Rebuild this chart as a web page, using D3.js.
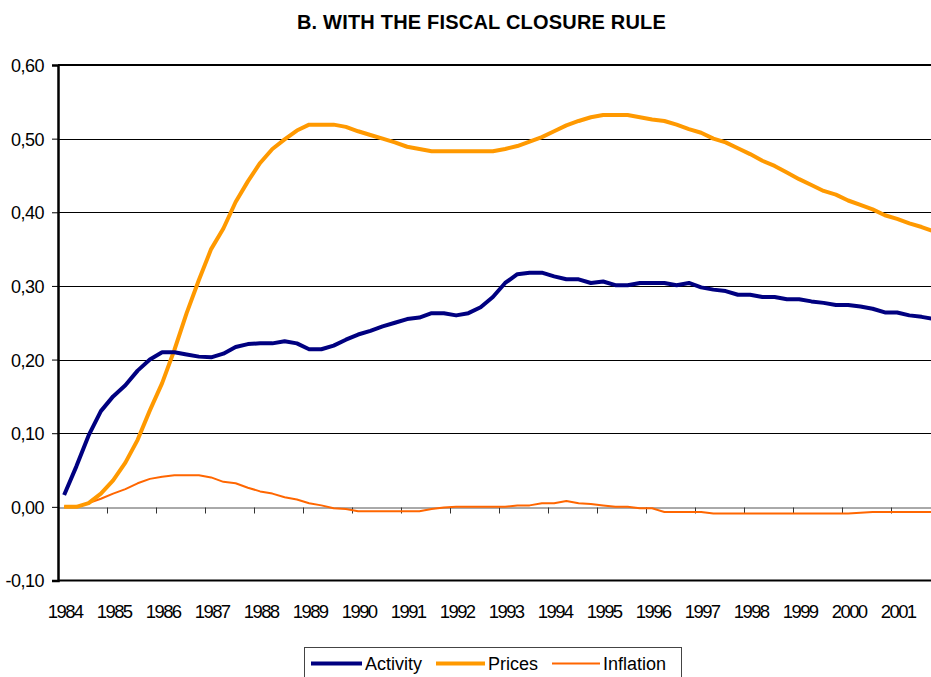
<!DOCTYPE html>
<html>
<head>
<meta charset="utf-8">
<script src="https://cdn.jsdelivr.net/npm/d3@7"></script>
<style>
  body { margin: 0; background: #fff; }
  svg { display: block; font-family: "Liberation Sans", Arial, sans-serif; }
</style>
</head>
<body>
<svg id="myGraph" width="931" height="677"></svg>
<script>
var svgWidth = 931;
var svgHeight = 677;

// years on the category axis (quarterly data, label on Q1)
var years = [1984, 1985, 1986, 1987, 1988, 1989, 1990, 1991, 1992,
             1993, 1994, 1995, 1996, 1997, 1998, 1999, 2000, 2001];
var yTicks = [-0.10, 0.00, 0.10, 0.20, 0.30, 0.40, 0.50, 0.60];

var activity = [
  0.016, 0.055, 0.097, 0.130, 0.150, 0.165, 0.185, 0.200,
  0.210, 0.210, 0.207, 0.204, 0.203, 0.208, 0.217, 0.221,
  0.222, 0.222, 0.225, 0.222, 0.214, 0.214, 0.219, 0.227,
  0.234, 0.239, 0.245, 0.250, 0.255, 0.257, 0.263, 0.263,
  0.260, 0.263, 0.271, 0.285, 0.304, 0.316, 0.318, 0.318,
  0.313, 0.309, 0.309, 0.304, 0.306, 0.301, 0.301, 0.304,
  0.304, 0.304, 0.301, 0.304, 0.298, 0.295, 0.293, 0.288,
  0.288, 0.285, 0.285, 0.282, 0.282, 0.279, 0.277, 0.274,
  0.274, 0.272, 0.269, 0.264, 0.264, 0.260, 0.258, 0.255
];
var prices = [
  0.000, 0.000, 0.005, 0.018, 0.036, 0.060, 0.091, 0.131,
  0.168, 0.213, 0.263, 0.308, 0.350, 0.378, 0.414, 0.442,
  0.467, 0.486, 0.499, 0.511, 0.519, 0.519, 0.519, 0.516,
  0.510, 0.505, 0.500, 0.495, 0.489, 0.486, 0.483, 0.483,
  0.483, 0.483, 0.483, 0.483, 0.486, 0.490, 0.496, 0.502,
  0.510, 0.518, 0.524, 0.529, 0.532, 0.532, 0.532, 0.529,
  0.526, 0.524, 0.519, 0.513, 0.508, 0.500, 0.495, 0.487,
  0.479, 0.470, 0.463, 0.454, 0.445, 0.437, 0.429, 0.424,
  0.416, 0.410, 0.404, 0.396, 0.391, 0.385, 0.380, 0.374
];
var inflation = [
  0.000, 0.000, 0.005, 0.011, 0.018, 0.024, 0.032, 0.038,
  0.041, 0.043, 0.043, 0.043, 0.040, 0.034, 0.032, 0.026,
  0.021, 0.018, 0.013, 0.010, 0.005, 0.002, -0.002, -0.003,
  -0.006, -0.006, -0.006, -0.006, -0.006, -0.006, -0.003, -0.001,
  0.000, 0.000, 0.000, 0.000, 0.000, 0.002, 0.002, 0.005,
  0.005, 0.008, 0.005, 0.004, 0.002, 0.000, 0.000, -0.002,
  -0.002, -0.007, -0.007, -0.007, -0.007, -0.009, -0.009, -0.009,
  -0.009, -0.009, -0.009, -0.009, -0.009, -0.009, -0.009, -0.009,
  -0.009, -0.008, -0.007, -0.007, -0.007, -0.007, -0.007, -0.007
];

var seriesNames = ['Activity', 'Prices', 'Inflation'];
var seriesColors = ['#000080', '#FF9900', '#FF6600'];
var seriesWidths = [4, 4, 2];

var quarters = [];
years.forEach(function(y) {
  for (var q = 1; q <= 4; q++) { quarters.push(y + 'Q' + q); }
});

var svg = d3.select('#myGraph');
svg.append('rect').attr('width', svgWidth).attr('height', svgHeight).attr('fill', '#fff');

var left = 58, right = 940;
var x = d3.scaleBand().domain(quarters).range([left, right]).padding(0);
var xLin = d3.scaleLinear().domain([0, quarters.length]).range([left, right]);
var y = d3.scaleLinear().domain([-0.1, 0.6]).range([580.5, 65]);

// horizontal grid lines
svg.append('g')
  .selectAll('line')
  .data([0.1, 0.2, 0.3, 0.4, 0.5])
  .enter()
  .append('line')
  .attr('x1', left).attr('x2', svgWidth)
  .attr('y1', function(d) { return Math.round(y(d)) + 0.5; })
  .attr('y2', function(d) { return Math.round(y(d)) + 0.5; })
  .attr('stroke', '#000').attr('stroke-width', 1);

// top border of plot area
svg.append('line')
  .attr('x1', left).attr('x2', svgWidth)
  .attr('y1', y(0.6)).attr('y2', y(0.6))
  .attr('stroke', '#000').attr('stroke-width', 2);

// zero line with year tick marks (category axis crossing)
var zeroAxis = svg.append('g')
  .attr('transform', 'translate(0,' + (Math.round(y(0)) + 0.5) + ')')
  .call(d3.axisBottom(xLin)
    .tickValues(d3.range(4, quarters.length, 4))
    .tickSize(6)
    .tickFormat(''));
zeroAxis.select('.domain').attr('stroke', '#555').attr('stroke-width', 1);
zeroAxis.selectAll('.tick line').attr('stroke', '#333');

// bottom border
svg.append('line')
  .attr('x1', left).attr('x2', svgWidth)
  .attr('y1', y(-0.1)).attr('y2', y(-0.1))
  .attr('stroke', '#000').attr('stroke-width', 2);

// year labels
var xAxis = svg.append('g')
  .attr('transform', 'translate(1,' + y(-0.1) + ')')
  .call(d3.axisBottom(x)
    .tickValues(years.map(function(d) { return d + 'Q1'; }))
    .tickSize(0)
    .tickPadding(24)
    .tickFormat(function(d) { return d.slice(0, 4); }));
xAxis.select('.domain').remove();
xAxis.selectAll('text')
  .attr('fill', '#000')
  .style('font-size', '18.5px')
  .style('letter-spacing', '-1.6px');

// y axis
var yAxis = svg.append('g')
  .attr('transform', 'translate(' + left + ',0)')
  .call(d3.axisLeft(y)
    .tickValues(yTicks)
    .tickSize(6)
    .tickPadding(8)
    .tickFormat(function(d) { return d.toFixed(2).replace('.', ','); }));
yAxis.select('.domain').attr('stroke', '#000').attr('stroke-width', 2.5);
yAxis.selectAll('.tick line').attr('stroke', '#000');
yAxis.selectAll('text')
  .attr('fill', '#000')
  .attr('dy', '0.36em')
  .style('font-size', '18px')
  .style('letter-spacing', '-0.5px');

// series lines
var allSeries = [activity, prices, inflation];
var line = d3.line()
  .x(function(d, i) { return x(quarters[i]) + x.bandwidth() / 2; })
  .y(function(d) { return y(d); });

svg.append('g')
  .selectAll('path')
  .data([2, 1, 0])
  .enter()
  .append('path')
  .attr('d', function(k) { return line(allSeries[k]); })
  .attr('fill', 'none')
  .attr('stroke', function(k) { return seriesColors[k]; })
  .attr('stroke-width', function(k) { return seriesWidths[k]; })
  .attr('stroke-linejoin', 'round');

// title
svg.append('text')
  .attr('x', 481.5).attr('y', 28.5)
  .attr('text-anchor', 'middle')
  .style('font-size', '20px')
  .style('font-weight', 'bold')
  .style('letter-spacing', '0.2px')
  .text('B. WITH THE FISCAL CLOSURE RULE');

// legend
var legend = svg.append('g');
legend.append('rect')
  .attr('x', 304.5).attr('y', 647.5)
  .attr('width', 377).attr('height', 40)
  .attr('fill', '#fff').attr('stroke', '#444').attr('stroke-width', 1);

var legendX = [311, 436, 552];
var legendW = [51, 49, 48];
var items = legend.selectAll('g.item')
  .data(seriesNames)
  .enter()
  .append('g')
  .attr('class', 'item');

items.append('line')
  .attr('x1', function(d, i) { return legendX[i]; })
  .attr('x2', function(d, i) { return legendX[i] + legendW[i]; })
  .attr('y1', 663.5).attr('y2', 663.5)
  .attr('stroke', function(d, i) { return seriesColors[i]; })
  .attr('stroke-width', function(d, i) { return seriesWidths[i]; });

items.append('text')
  .attr('x', function(d, i) { return legendX[i] + legendW[i] + 3; })
  .attr('y', 670)
  .style('font-size', '18px')
  .text(function(d) { return d; });
</script>
</body>
</html>
